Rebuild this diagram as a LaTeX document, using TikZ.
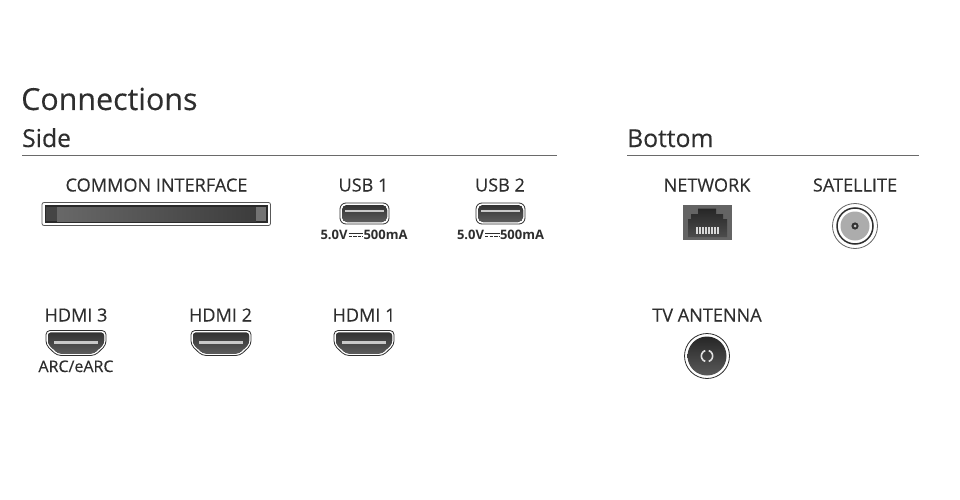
\documentclass[tikz,border=0pt]{standalone}
\usepackage{fontspec}
\setmainfont{Open Sans}
\newfontfamily\medfont{Open Sans}[FakeBold=0.25]
\usetikzlibrary{calc}
\definecolor{ink}{HTML}{2E2E2E}
\definecolor{rulegray}{HTML}{6A6A6A}
\definecolor{portdark}{HTML}{333333}
\definecolor{portmid}{HTML}{5C5C5C}
\definecolor{portlight}{HTML}{C8C8C8}
\definecolor{slotband}{HTML}{2A2A2A}
\definecolor{slotleft}{HTML}{686868}
\definecolor{slotright}{HTML}{3C3C3C}
\tikzset{
 titletext/.style={font=\medfont\fontsize{30.4}{34}\selectfont,text=ink,inner sep=0pt,anchor=base west},
 headtext/.style={font=\medfont\fontsize{24.7}{28}\selectfont,text=ink,inner sep=0pt,anchor=base west},
 labeltext/.style={font=\medfont\fontsize{18.1}{20}\selectfont,text=ink,inner sep=0pt,anchor=base},
 smalltext/.style={font=\medfont\fontsize{16}{18}\selectfont,text=ink,inner sep=0pt,anchor=base},
 powertext/.style={font=\bfseries\fontsize{13}{15}\selectfont,text=ink,inner sep=0pt,anchor=base},
 portfill/.style={top color=portdark,bottom color=portmid},
 sectionrule/.style={draw=rulegray,line width=1pt},
 hdmiport/.pic={
   \draw[draw=ink,line width=.8pt,fill=white,rounded corners=4pt]
     (-30,-12.5) -- (30,-12.5) -- (30,2) -- (19,12.5) -- (-19,12.5) -- (-30,2) -- cycle;
   \fill[portfill,rounded corners=3pt]
     (-28,-10.5) -- (28,-10.5) -- (28,1) -- (18,10.5) -- (-18,10.5) -- (-28,1) -- cycle;
   \fill[portlight] (-22,-2.2) rectangle (22,0.8);
 },
 usbport/.pic={
   \draw[draw=ink,line width=.8pt,fill=white,rounded corners=6pt] (-24.5,-10.5) rectangle (24.5,10.5);
   \fill[portfill,rounded corners=5pt] (-22.5,-8.5) rectangle (22.5,8.5);
   \fill[portlight] (-19.5,-3.8) rectangle (19.5,-1.4);
 },
 pics/powerlabel/.style={code={
   \node[powertext] (p) at (0,0) {5.0V\hspace{16pt}500mA};
   \draw[ink,line width=1.3pt] (-15.5,-6) -- (-1,-6);
   \draw[ink,line width=1.3pt,dash pattern=on 3.4pt off 1.2pt] (-15.5,-2.8) -- (-1,-2.8);
 }},
}
\begin{document}
\begin{tikzpicture}[x=1pt,y=-1pt]
\useasboundingbox (0,0) rectangle (960,500);
\fill[white] (0,0) rectangle (960,500);
% headings
\node[titletext] (title) at (21,110) {Connections};
\node[headtext] (side) at (22,147) {Side};
\node[headtext] (bottom) at (627,147) {Bottom};
\draw[sectionrule] (22,155) -- (557,155);
\draw[sectionrule] (627,155) -- (919,155);
% labels
\node[labeltext] (ci) at (156.5,191.5) {COMMON INTERFACE};
\node[labeltext] (usb1) at (363.5,191.5) {USB 1};
\node[labeltext] (usb2) at (500,191.5) {USB 2};
\node[labeltext] (net) at (707,191.5) {NETWORK};
\node[labeltext] (sat) at (855,191.5) {SATELLITE};
\node[labeltext] (h3) at (76,321.5) {HDMI 3};
\node[labeltext] (h2) at (220.5,321.5) {HDMI 2};
\node[labeltext] (h1) at (364,321.5) {HDMI 1};
\node[labeltext] (ant) at (707,321.5) {TV ANTENNA};
\node[smalltext] (arc) at (76,372) {ARC/eARC};
% common interface
\draw[draw=ink!80,line width=.8pt,fill=white,rounded corners=2pt] (42,202.5) rectangle (270.5,225.5);
\fill[slotband] (44.5,205) rectangle (268,223);
\shade[left color=slotleft,right color=slotright] (57,207) -- (256,207) -- (256,221) -- (57,221) -- cycle;
\fill[portmid!75!black] (46,207) rectangle (57,221);
\fill[gray!90!black] (256,207) rectangle (266,221);
% usb
\pic at (364.5,213.5) {usbport};
\pic at (500.5,213.5) {usbport};
\pic at (364,239.5) {powerlabel};
\pic at (500.5,239.5) {powerlabel};
% hdmi
\pic at (76,343) {hdmiport};
\pic at (221,343) {hdmiport};
\pic at (364,343) {hdmiport};
% network
\fill[portmid!95!white] (683,205) rectangle (732,240);
\shade[top color=black!85,bottom color=black!70] (688,237) -- (688,219) -- (691,219) -- (691,214) -- (698,214) -- (698,208.5) -- (716,208.5) -- (716,214) -- (723,214) -- (723,219) -- (727,219) -- (727,237) -- cycle;
\foreach \i in {0,...,7} \fill[white!85!black] ({696+\i*3},227) rectangle ({697.5+\i*3},233.5);
% satellite
\draw[gray!80!black,line width=.8pt,fill=white] (855,226) circle (22.5);
\draw[ink,line width=1.5pt,fill=white] (855,226) circle (18);
\fill[gray!65] (855,226) circle (14.5);
\fill[portdark] (855,226) circle (3.6);
\fill[gray!45] (855,226) circle (1.5);
% antenna
\draw[ink,line width=.8pt,fill=white] (707,356) circle (22.5);
\shade[top color=black!85,bottom color=black!65] (707,356) circle (19.5);
\draw[white!88!black,line width=1.6pt] plot[domain=108:252,samples=24] ({707+5.6*cos(\x)},{356+5.6*sin(\x)});
\draw[white!88!black,line width=1.6pt] plot[domain=-72:72,samples=24] ({707+5.6*cos(\x)},{356+5.6*sin(\x)});
\end{tikzpicture}
\end{document}
